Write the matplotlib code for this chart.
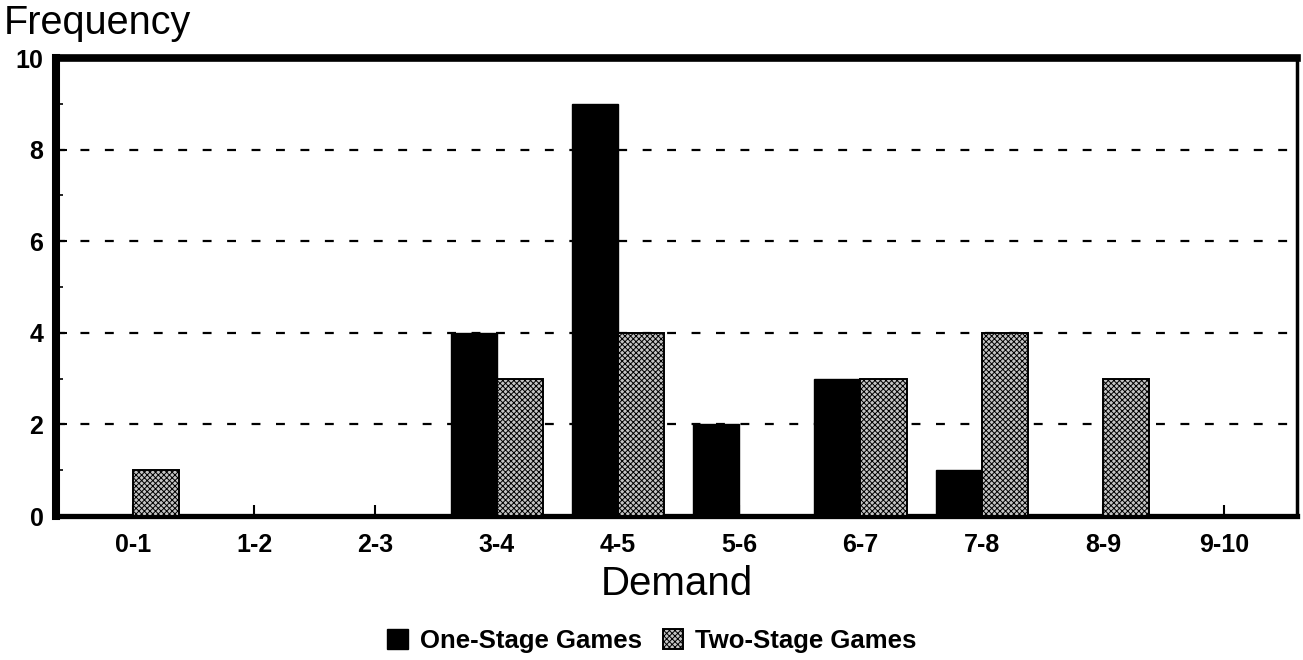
import matplotlib.pyplot as plt
import numpy as np

categories = ['0-1', '1-2', '2-3', '3-4', '4-5', '5-6', '6-7', '7-8', '8-9', '9-10']
one_stage = [0, 0, 0, 4, 9, 2, 3, 1, 0, 0]
two_stage = [1, 0, 0, 3, 4, 0, 3, 4, 3, 0]

plt.rcParams['font.family'] = ['Liberation Sans', 'DejaVu Sans']
plt.rcParams['hatch.linewidth'] = 0.7

fig = plt.figure(figsize=(13.03, 6.6), dpi=100)
ax = fig.add_axes([56 / 1303, 1 - 516 / 660, 1241 / 1303, 458 / 660])

x = np.arange(len(categories))
w = 0.38
# black bar sits left of the tick, stippled bar right of it
ax.bar(x - w / 2, one_stage, w, color='black', edgecolor='black', lw=1, zorder=3,
       label='One-Stage Games')
ax.bar(x + w / 2, two_stage, w, color='#c4c4c4', edgecolor='black', hatch='xxxxxx',
       lw=1.4, zorder=3, label='Two-Stage Games')

ax.set_xlim(-0.635, 9.6)
ax.set_ylim(0, 10)
for yv in [2, 4, 6, 8]:
    ax.axhline(yv, color='black', lw=1.6, ls=(0, (4, 7)), zorder=1)

ax.set_yticks([0, 2, 4, 6, 8, 10])
ax.set_yticks([1, 3, 5, 7, 9], minor=True)
ax.set_xticks(x)
ax.set_xticklabels(categories)
ax.tick_params(axis='both', direction='in', length=8, width=1.5, labelsize=18)
ax.tick_params(axis='x', pad=12)
ax.tick_params(axis='y', pad=9)
ax.tick_params(axis='y', which='minor', direction='in', length=5, width=1.2)
for lab in ax.get_xticklabels() + ax.get_yticklabels():
    lab.set_fontweight('bold')

ax.spines['left'].set_linewidth(5.8)
ax.spines['top'].set_linewidth(5.5)
ax.spines['bottom'].set_linewidth(3.8)
ax.spines['right'].set_linewidth(2.5)

ax.set_xlabel('Demand', fontsize=29, labelpad=6)
fig.text(4 / 1303, 1 - 23 / 660, 'Frequency', fontsize=28.5, va='center', ha='left')

fig.legend(loc='center', bbox_to_anchor=(652 / 1303, 1 - 641 / 660), ncol=2, frameon=False,
           handlelength=0.8, handleheight=0.8, handletextpad=0.47, columnspacing=0.8,
           prop={'weight': 'bold', 'size': 18.5})

fig.savefig('out.png', dpi=100)
